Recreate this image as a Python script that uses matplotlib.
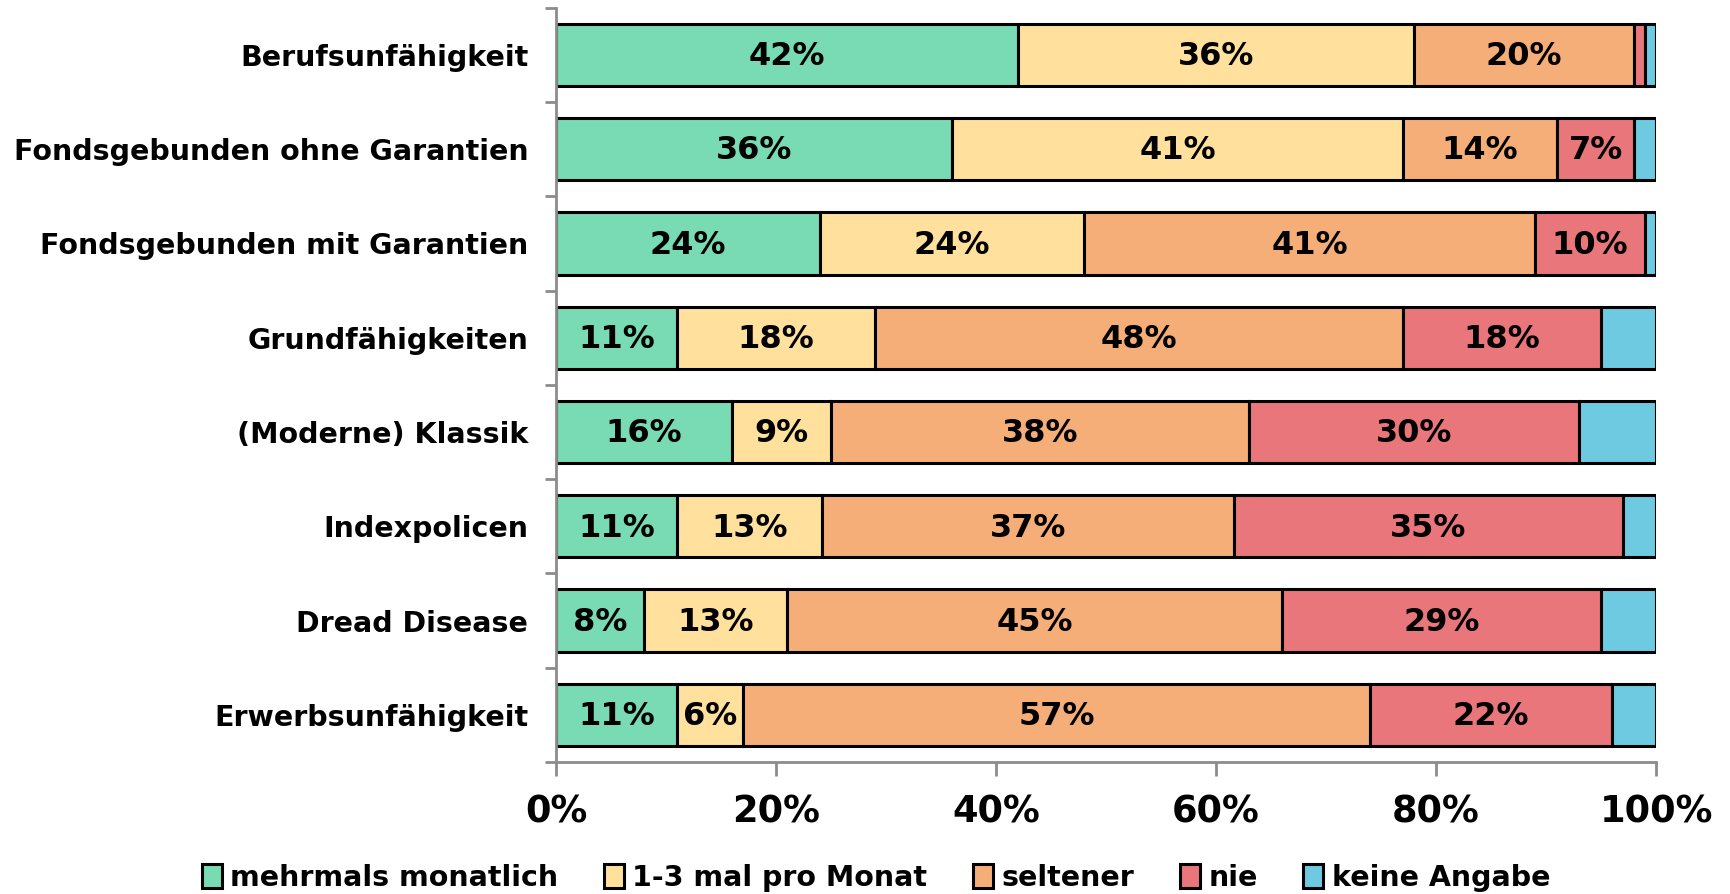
import matplotlib
matplotlib.use("Agg")
import matplotlib.pyplot as plt
import numpy as np

plt.rcParams['font.family'] = ['DejaVu Sans']
plt.rcParams['font.weight'] = 'bold'

categories = ["Berufsunfähigkeit", "Fondsgebunden ohne Garantien", "Fondsgebunden mit Garantien",
              "Grundfähigkeiten", "(Moderne) Klassik", "Indexpolicen", "Dread Disease",
              "Erwerbsunfähigkeit"]
series_names = ["mehrmals monatlich", "1-3 mal pro Monat", "seltener", "nie", "keine Angabe"]
mehrmals = [42, 36, 24, 11, 16, 11, 8, 11]
ein_drei = [36, 41, 24, 18, 9, 13.2, 13, 6]
seltener = [20, 14, 41, 48, 38, 37.4, 45, 57]
nie = [1, 7, 10, 18, 30, 35.4, 29, 22]
keine = [1, 2, 1, 5, 7, 3, 5, 4]
xtick_labels = ["0%", "20%", "40%", "60%", "80%", "100%"]

colors = ["#79DBB3", "#FFE19D", "#F5AE78", "#E8767A", "#6ECAE0"]
data = [mehrmals, ein_drei, seltener, nie, keine]
labelled = [True, True, True, True, False]

fig = plt.figure(figsize=(17.31, 8.94), dpi=100)
ax = fig.add_axes([0.3212, 0.1477, 0.6355, 0.8437])

y = np.arange(len(categories))
left = np.zeros(len(categories))
for vals, col, name, lab in zip(data, colors, series_names, labelled):
    vals = np.array(vals, dtype=float)
    ax.barh(y, vals, left=left, height=0.66, color=col, edgecolor="black",
            linewidth=2.2, label=name)
    if lab:
        for yi, (l, v) in enumerate(zip(left, vals)):
            if v >= 5:
                ax.text(l + v / 2, yi + 0.02, f"{v:.0f}%", ha="center", va="center",
                        fontsize=23, fontweight="bold", color="black")
    left += vals

ax.set_ylim(len(categories) - 0.5, -0.5)
ax.set_xlim(0, 100)
ax.set_yticks(y)
ax.set_yticklabels(categories, fontsize=20.5, fontweight="bold")
ax.set_yticks(np.arange(-0.5, len(categories) + 0.5, 1), minor=True)
ax.tick_params(axis="y", which="major", length=0, pad=20)
ax.tick_params(axis="y", which="minor", length=8, width=2, color="#8C8C8C", direction="out")
ax.set_xticks([0, 20, 40, 60, 80, 100])
ax.set_xticklabels(xtick_labels, fontsize=26.5, fontweight="bold")
ax.tick_params(axis="x", length=10, width=2, color="#8C8C8C", direction="out", pad=13)

for s in ["top", "right"]:
    ax.spines[s].set_visible(False)
for s in ["left", "bottom"]:
    ax.spines[s].set_color("#8C8C8C")
    ax.spines[s].set_linewidth(2)

handles, labels = ax.get_legend_handles_labels()
leg = fig.legend(handles, labels, loc="lower center", bbox_to_anchor=(0.506, -0.026), ncol=5,
                 frameon=False, fontsize=20.5, handlelength=0.7, handleheight=0.9,
                 handletextpad=0.3, columnspacing=1.6)
for t in leg.get_texts():
    t.set_fontweight("bold")

fig.savefig("out.png", dpi=100)
